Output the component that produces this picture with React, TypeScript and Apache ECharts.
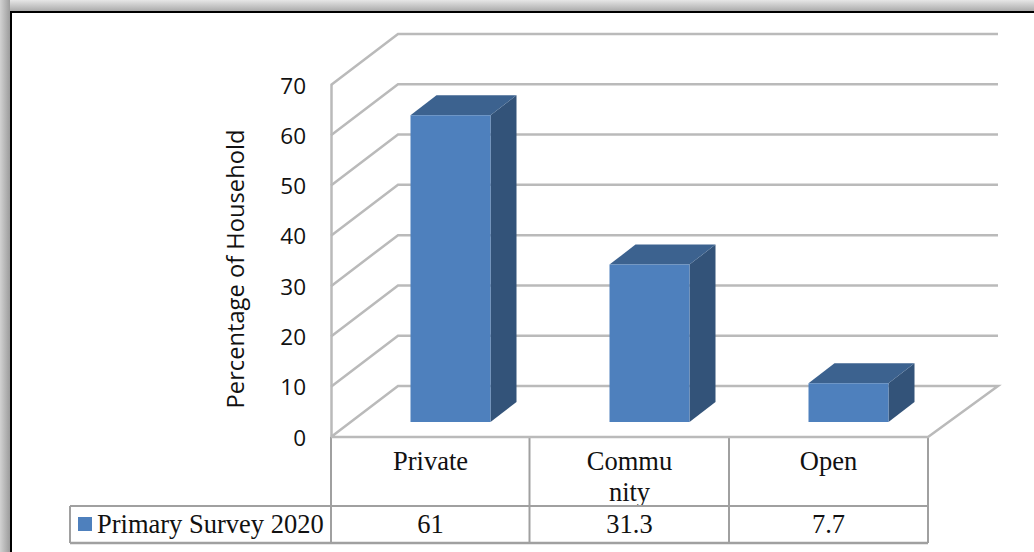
import React, { useEffect, useRef } from "react";
import * as echarts from "echarts";

const categories = ["Private", "Commu\nnity", "Open"];
const seriesName = "Primary Survey 2020";
const values = [61, 31.3, 7.7];
const valueLabels = ["61", "31.3", "7.7"];
const yTicks = [0, 10, 20, 30, 40, 50, 60, 70];
const axisTitle = "Percentage of Household";

const G = { left: 331, top: 85, width: 597, height: 352 };
const WALL = { dx: 67, dy: -51 };
const BAR = { shift: 20, half: 40, lift: 15, dx: 26, dy: -20 };
const GRID_COLOR = "#bababa";
const TABLE_COLOR = "#a0a0a0";
const SERIF = "'Liberation Serif', 'Times New Roman', serif";

export default function App() {
  const ref = useRef<HTMLDivElement>(null);
  useEffect(() => {
    document.body.style.margin = "0";
    const chart = echarts.init(ref.current!, null, { renderer: "svg" });
    const lineStyle = { stroke: GRID_COLOR, lineWidth: 2.5, fill: "none" };
    const right = G.left + G.width;
    const bottom = G.top + G.height;
    const tableLine = (x1: number, y1: number, x2: number, y2: number, w = 2) => ({
      type: "line",
      shape: { x1, y1, x2, y2 },
      style: { stroke: TABLE_COLOR, lineWidth: w },
      silent: true,
      z: 1,
    });
    chart.setOption({
      animation: false,
      backgroundColor: "#ffffff",
      grid: { left: G.left, top: G.top, width: G.width, height: G.height, containLabel: false },
      xAxis: [
        {
          type: "category",
          data: categories,
          axisLine: { show: false },
          axisTick: { show: false },
          splitLine: { show: false },
          axisLabel: { fontFamily: SERIF, fontSize: 26.5, color: "#111", margin: 8, lineHeight: 31, interval: 0, verticalAlign: "top" },
        },
        {
          type: "category",
          position: "bottom",
          offset: 82,
          data: valueLabels,
          axisLine: { show: false },
          axisTick: { show: false },
          splitLine: { show: false },
          axisLabel: { fontFamily: SERIF, fontSize: 26.5, color: "#111", margin: 5, interval: 0, verticalAlign: "middle" },
        },
      ],
      yAxis: {
        type: "value",
        min: 0,
        max: 70,
        interval: 10,
        name: axisTitle,
        nameLocation: "middle",
        nameGap: 84,
        nameRotate: 90,
        nameTextStyle: { fontFamily: "'Open Sans', sans-serif", fontSize: 23.7, color: "#111", padding: [0, 16, 0, 0] },
        axisLine: { show: true, lineStyle: { color: GRID_COLOR, width: 2.5 } },
        axisTick: { show: false },
        splitLine: { show: false },
        axisLabel: { fontFamily: "'Open Sans', sans-serif", fontSize: 22.5, color: "#111", margin: 25, padding: [5, 0, 0, 0] },
      },
      series: [
        {
          type: "custom",
          name: "walls",
          coordinateSystem: "cartesian2d",
          silent: true,
          z: 1,
          data: yTicks.map((t) => [0, t]),
          renderItem: (_p: any, api: any) => {
            const v = api.value(1);
            const y = api.coord([0, v])[1];
            const pts: number[][] = [
              [G.left, y],
              [G.left + WALL.dx, y + WALL.dy],
              [right + WALL.dx + 3, y + WALL.dy],
            ];
            if (v === 0) {
              pts.push([right, y]);
              pts.push([G.left, y]);
            }
            return { type: "polyline", shape: { points: pts }, style: lineStyle };
          },
        },
        {
          type: "custom",
          name: seriesName,
          coordinateSystem: "cartesian2d",
          silent: true,
          z: 3,
          data: values.map((v, i) => [i, v]),
          renderItem: (_p: any, api: any) => {
            const [cx, yTop0] = api.coord([api.value(0), api.value(1)]);
            const l = cx + BAR.shift - BAR.half;
            const r = cx + BAR.shift + BAR.half;
            const t = yTop0 - BAR.lift;
            const b = bottom - BAR.lift;
            const { dx, dy } = BAR;
            return {
              type: "group",
              children: [
                { type: "polygon", shape: { points: [[r, t], [r + dx, t + dy], [r + dx, b + dy], [r, b]] }, style: { fill: "#335379" } },
                { type: "polygon", shape: { points: [[l, t], [l + dx, t + dy], [r + dx, t + dy], [r, t]] }, style: { fill: "#3c628f" } },
                { type: "rect", shape: { x: l, y: t, width: r - l, height: b - t }, style: { fill: "#4e80bd" } },
              ],
            };
          },
        },
      ],
      graphic: [
        { type: "rect", shape: { x: 0, y: 0, width: 1034, height: 11 }, silent: true, style: { fill: new echarts.graphic.LinearGradient(0, 0, 0, 1, [{ offset: 0, color: "#e6e6e6" }, { offset: 1, color: "#ababab" }]) } },
        { type: "rect", shape: { x: 0, y: 0, width: 10, height: 552 }, silent: true, style: { fill: new echarts.graphic.LinearGradient(0, 0, 1, 0, [{ offset: 0, color: "#d2d2d2" }, { offset: 1, color: "#9c9c9c" }]) } },
        { type: "rect", shape: { x: 10, y: 11, width: 1024, height: 2 }, silent: true, style: { fill: "#000" } },
        { type: "rect", shape: { x: 10, y: 11, width: 2, height: 541 }, silent: true, style: { fill: "#000" } },
        tableLine(331, 437, 331, 543),
        tableLine(529.5, 437, 529.5, 543),
        tableLine(729, 437, 729, 543),
        tableLine(928, 437, 928, 543),
        tableLine(70, 506, 928, 506),
        tableLine(70, 543, 928, 543, 2.5),
        tableLine(70, 506, 70, 543),
        { type: "rect", shape: { x: 78, y: 517, width: 14, height: 14 }, silent: true, style: { fill: "#4e80bd" } },
        { type: "text", x: 97, y: 524, silent: true, style: { text: seriesName, font: `26.5px ${SERIF}`, fill: "#111", verticalAlign: "middle" } },
      ],
    });
    return () => chart.dispose();
  }, []);
  return <div ref={ref} style={{ position: "absolute", left: 0, top: 0, width: 1034, height: 552 }} />;
}
